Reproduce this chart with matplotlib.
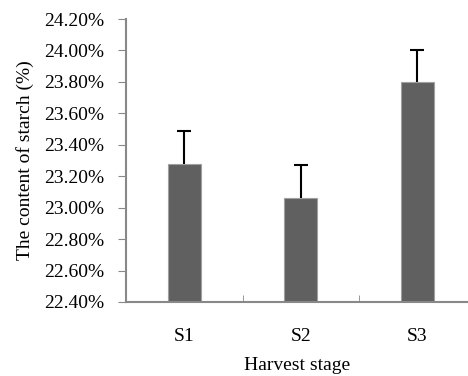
import numpy as np
import matplotlib.pyplot as plt
from matplotlib.ticker import FuncFormatter

plt.rcParams['font.family'] = ['Liberation Serif', 'DejaVu Serif']

stages = ['S1', 'S2', 'S3']
starch = [23.28, 23.06, 23.80]
err = [0.205, 0.21, 0.205]

fig = plt.figure(figsize=(4.68, 3.76), dpi=100)
ax = fig.add_axes([126/468, 1 - 302/376, 1 - 126/468, (302 - 19)/376])

x = np.arange(len(stages))
ax.bar(x, np.array(starch) - 22.4, bottom=22.4, width=0.285, color='#606060',
       edgecolor='#a0a0a0', linewidth=0.8)
eb = ax.errorbar(x, starch, yerr=[[0, 0, 0], err], fmt='none', ecolor='black',
                 elinewidth=1.5, capsize=5, capthick=1.5)
# only the upper cap is shown
eb[1][0].set_visible(False)

ax.set_ylim(22.4, 24.2)
ax.set_yticks(np.arange(22.4, 24.21, 0.2))
ax.yaxis.set_major_formatter(FuncFormatter(lambda v, p: '%.2f%%' % v))
ax.set_xlim(-0.5, -0.5 + 342/116.5)
ax.set_xticks(x)
ax.set_xticklabels(stages)
ax.set_xticks([0.5, 1.5], minor=True)
ax.tick_params(axis='x', which='major', length=0, pad=19, labelsize=14)
ax.tick_params(axis='x', which='minor', direction='in', length=5, color='#888888')
ax.tick_params(axis='y', direction='out', length=6, color='#888888', labelsize=14, pad=10)

for s in ['top', 'right']:
    ax.spines[s].set_visible(False)
for s in ['left', 'bottom']:
    ax.spines[s].set_color('#888888')
    ax.spines[s].set_linewidth(1.5)

ax.set_xlabel('Harvest stage', fontsize=14, labelpad=8)
ax.set_ylabel('The content of starch (%)', fontsize=14, labelpad=7)

fig.savefig('out.png', dpi=100)
